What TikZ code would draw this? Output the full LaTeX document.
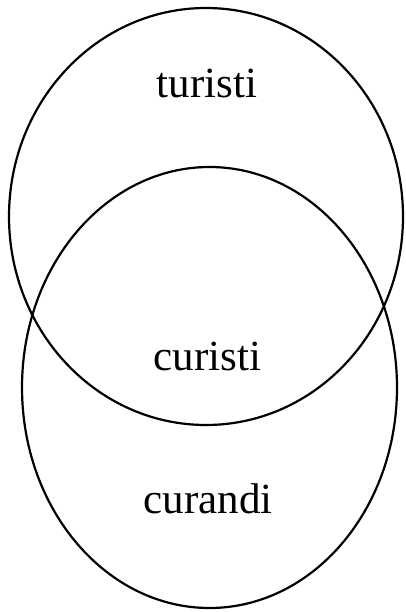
\documentclass[tikz,border=0pt]{standalone}
\usepackage{fontspec}
\setmainfont{Liberation Serif}
\usetikzlibrary{shapes.geometric}
\begin{document}
\begin{tikzpicture}[x=1pt,y=-1pt,
  setring/.style={draw=black, line width=2.2pt, ellipse, inner sep=0pt},
  setlabel/.style={anchor=base, inner sep=0pt, font=\fontsize{43}{50}\selectfont}]
\useasboundingbox (0,0) rectangle (405,612);
\node[setring, minimum width=394pt, minimum height=417pt] (top) at (206,216.5) {};
\node[setring, minimum width=375pt, minimum height=441pt] (bottom) at (209.5,387.5) {};
\node[setlabel] (t) at (207,98) {turisti};
\node[setlabel] (c) at (207.5,370) {curisti};
\node[setlabel] (d) at (208,513) {curandi};
\end{tikzpicture}
\end{document}
